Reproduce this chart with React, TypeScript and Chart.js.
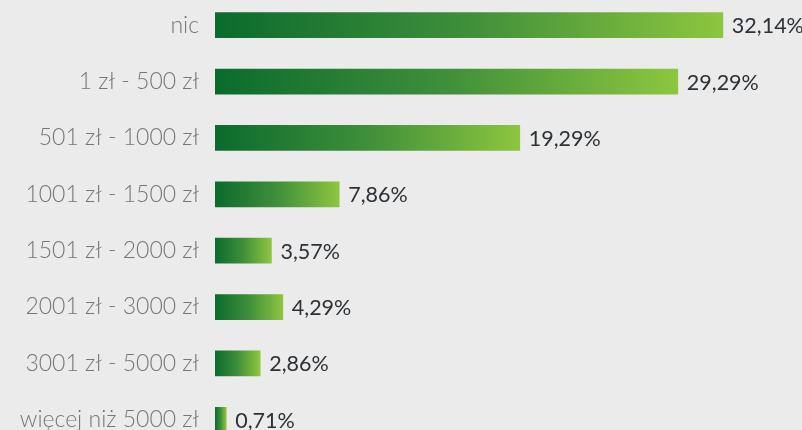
import React, { useEffect, useRef } from "react";
import { Chart, registerables } from "chart.js";

Chart.register(...registerables);

const categories = [
  "nic",
  "1 zł - 500 zł",
  "501 zł - 1000 zł",
  "1001 zł - 1500 zł",
  "1501 zł - 2000 zł",
  "2001 zł - 3000 zł",
  "3001 zł - 5000 zł",
  "więcej niż 5000 zł",
];
const shares = [32.14, 29.29, 19.29, 7.86, 3.57, 4.29, 2.86, 0.71];

const DARK = "#0b6b2d";
const LIGHT = "#8dc63f";
const BG = "#ebebeb";

const valueLabels = {
  id: "valueLabels",
  afterDatasetsDraw(chart: any) {
    const { ctx } = chart;
    const meta = chart.getDatasetMeta(0);
    ctx.save();
    ctx.font = "400 21.5px Lato";
    ctx.fillStyle = "#2c3136";
    ctx.textAlign = "left";
    ctx.textBaseline = "middle";
    meta.data.forEach((el: any, i: number) => {
      const txt = shares[i].toFixed(2).replace(".", ",") + "%";
      ctx.fillText(txt, el.x + 9, el.y + 1);
    });
    ctx.restore();
  },
};

export default function App() {
  const ref = useRef<HTMLCanvasElement | null>(null);

  useEffect(() => {
    document.body.style.background = BG;
    const canvas = ref.current;
    if (!canvas) return;
    const chart = new Chart(canvas, {
      type: "bar",
      data: {
        labels: categories,
        datasets: [
          {
            data: shares,
            barThickness: 25,
            borderWidth: 0,
            backgroundColor: (c: any) => {
              const ch = c.chart;
              const xs = ch.scales && ch.scales.x;
              if (!xs || c.type !== "data") return DARK;
              const x0 = xs.getPixelForValue(0);
              const x1 = xs.getPixelForValue(c.raw);
              if (!isFinite(x0) || !isFinite(x1) || x1 - x0 < 1) return DARK;
              const g = ch.ctx.createLinearGradient(x0, 0, x1, 0);
              g.addColorStop(0, DARK);
              g.addColorStop(0.5, "#3f8f3a");
              g.addColorStop(1, LIGHT);
              return g;
            },
          },
        ],
      },
      options: {
        indexAxis: "y",
        animation: false,
        responsive: true,
        maintainAspectRatio: false,
        layout: { padding: 0 },
        plugins: {
          legend: { display: false },
          tooltip: { enabled: false },
        },
        scales: {
          x: {
            display: false,
            min: 0,
            max: 37.15,
          },
          y: {
            grid: { display: false },
            border: { display: false },
            afterFit: (s: any) => {
              s.width = 215;
              s.paddingTop = 0;
              s.paddingBottom = 0;
            },
            ticks: {
              padding: 8,
              color: "#767676",
              font: { family: "Lato", size: 23, weight: "300" as any },
            },
          },
        },
      },
      plugins: [valueLabels],
    });
    return () => chart.destroy();
  }, []);

  return (
    <div
      style={{
        position: "fixed",
        left: 0,
        top: -3,
        width: 802,
        height: 451,
        background: BG,
      }}
    >
      <canvas ref={ref} />
    </div>
  );
}
